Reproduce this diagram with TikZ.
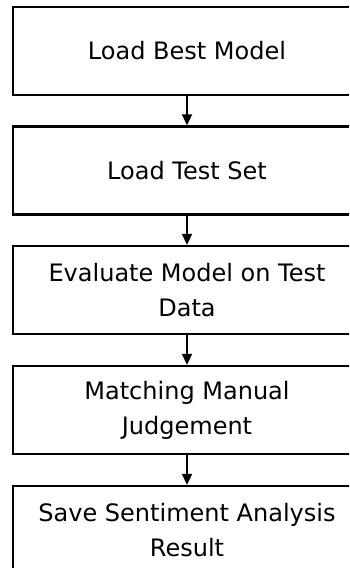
\documentclass[tikz,border=0pt]{standalone}
\usepackage{fontspec}
\setmainfont{DejaVu Sans}
\usetikzlibrary{arrows.meta}
\tikzset{
  stepbox/.style={draw=black, line width=2.5pt, minimum width=348pt, minimum height=88pt,
    inner sep=0pt, align=center, font=\fontsize{24}{35}\selectfont, text=black},
  flow/.style={line width=2.3pt, -{Triangle[width=10pt,length=11pt]}}
}
\begin{document}
\begin{tikzpicture}[x=1pt,y=-1pt]
  \useasboundingbox (0,0) rectangle (349,568);
  \clip (0,0) rectangle (349,568);
  \node[stepbox] (b1) at (187,51)    {Load Best Model};
  \node[stepbox] (b2) at (187,170.5) {Load Test Set};
  \node[stepbox] (b3) at (187,290)   {Evaluate Model on Test\\Data};
  \node[stepbox] (b4) at (187,410)   {Matching Manual\\Judgement};
  \node[stepbox] (b5) at (187,530)   {Save Sentiment Analysis\\Result};
  \draw[flow] (b1) -- (b2);
  \draw[flow] (b2) -- (b3);
  \draw[flow] (b3) -- (b4);
  \draw[flow] (b4) -- (b5);
\end{tikzpicture}
\end{document}
